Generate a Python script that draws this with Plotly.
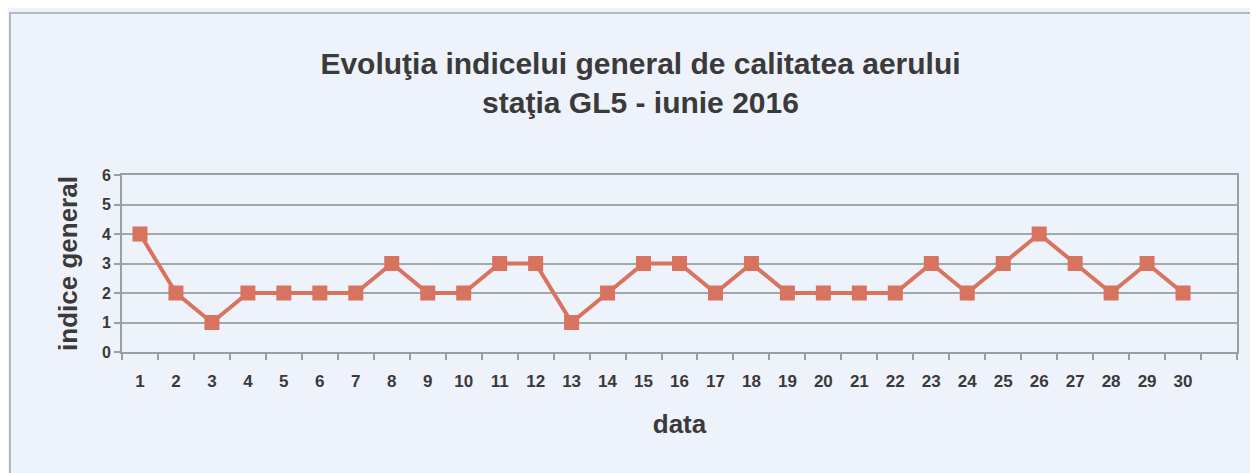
import plotly.graph_objects as go

days = list(range(1, 31))
index_values = [4, 2, 1, 2, 2, 2, 2, 3, 2, 2, 3, 3, 1, 2, 3, 3, 2, 3, 2, 2, 2, 2, 3, 2, 3, 4, 3, 2, 3, 2]
y_ticks = [0, 1, 2, 3, 4, 5, 6]

title_text = "Evoluţia indicelui general de calitatea aerului<br>staţia GL5 - iunie 2016"
font_family = "Liberation Sans, Arial, sans-serif"
bg = "#eef2fa"
line_color = "#d8735f"
text_color = "#3a3a3a"
axis_color = "#9aa0a0"

W, H = 1250, 465
L, R, T, B = 114, 21, 167, 121
pw, ph = W - L - R, H - T - B

fig = go.Figure()
fig.add_trace(go.Scatter(
    x=days, y=index_values, mode="lines+markers",
    line=dict(color=line_color, width=4),
    marker=dict(symbol="square", size=15, color=line_color),
    showlegend=False,
))

fig.update_layout(
    width=W, height=H,
    paper_bgcolor=bg, plot_bgcolor=bg,
    margin=dict(l=L, r=R, t=T, b=B),
    title=dict(text="<b>" + title_text + "</b>", x=0.506, xanchor="center",
               y=0.857, yanchor="middle",
               font=dict(family=font_family, size=30, color=text_color)),
    font=dict(family=font_family, color=text_color),
    shapes=[dict(type="rect", xref="paper", yref="paper",
                 x0=(2 - L) / pw, x1=1.2, y0=-1.5, y1=(T + ph - 5) / ph,
                 line=dict(color="#b5b8bd", width=2), fillcolor="rgba(0,0,0,0)", layer="below")],
)

fig.update_xaxes(
    range=[0.5, 31.5], tickvals=days, ticktext=["<b>%d</b>" % d for d in days],
    ticks="outside", ticklen=13, tickcolor="rgba(0,0,0,0)",
    showgrid=False, zeroline=False,
    showline=True, linecolor=axis_color, linewidth=2, mirror=True,
    tickfont=dict(size=17, family=font_family, color=text_color),
    title=dict(text="<b>data</b>", font=dict(size=26, family=font_family, color=text_color), standoff=24),
    minor=dict(tickvals=[d + 0.5 for d in range(0, 32)], ticks="outside", ticklen=6,
               tickcolor=axis_color, tickwidth=2, showgrid=False),
)
fig.update_yaxes(
    range=[0, 6], tickvals=y_ticks, ticktext=["<b>%d</b>" % v for v in y_ticks],
    ticks="outside", ticklen=6, tickcolor=axis_color, tickwidth=2,
    showgrid=True, gridcolor="#a3a8a8", gridwidth=2, zeroline=False,
    showline=True, linecolor=axis_color, linewidth=2, mirror=True,
    tickfont=dict(size=16, family=font_family, color=text_color),
    title=dict(text="<b>indice general</b>", font=dict(size=26, family=font_family, color=text_color), standoff=17),
)

fig.write_html("out.html")
